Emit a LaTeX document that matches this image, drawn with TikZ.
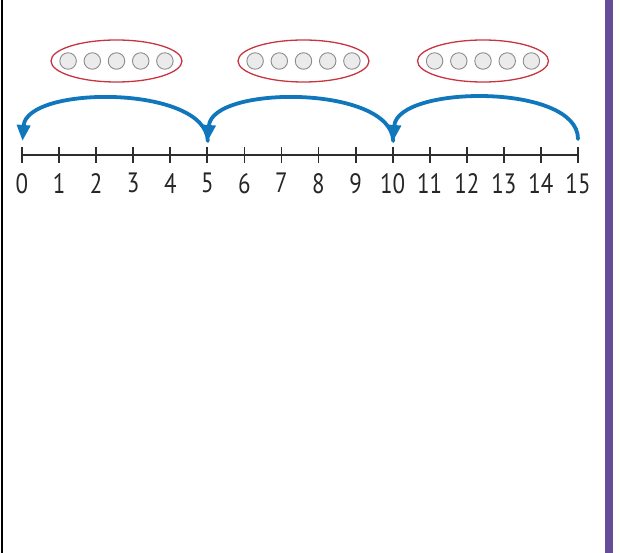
\documentclass[tikz,border=0pt]{standalone}
\usepackage{fontspec}
\setmainfont{PT Sans}[FakeStretch=0.82]
\usepackage{tikz}
\usetikzlibrary{positioning,calc}
\usetikzlibrary{arrows.meta,shapes.geometric}
\definecolor{HopBlue}{RGB}{16,119,189}
\definecolor{BagRed}{RGB}{200,52,64}
\definecolor{LineGray}{RGB}{45,45,45}
\definecolor{BarPurple}{RGB}{102,76,153}
\tikzset{
  bag/.style={ellipse,draw=BagRed,line width=1.3pt,minimum width=131pt,minimum height=42pt,inner sep=0pt},
  bead/.style={circle,draw=black!45,fill=black!8,line width=0.9pt,minimum size=16.5pt,inner sep=0pt},
  axis/.style={draw=LineGray,line width=1.8pt},
  tick/.style={draw=LineGray,line width=1.8pt},
  num/.style={inner sep=0pt,font=\fontsize{28}{32}\selectfont,text=black!85},
  hop/.style={draw=HopBlue,line width=3.8pt,line cap=round,-{Triangle[width=13pt,length=16pt]}},
}

\begin{document}
\begin{tikzpicture}[x=1pt,y=-1pt]
\useasboundingbox (0,0) rectangle (620,553);
\draw[black,line width=2.2pt] (2,0) -- (2,553);
\fill[BarPurple] (605,0) rectangle (612.5,553);
% number line
\coordinate (t0) at (22.0,155);
\coordinate (t1) at (59.1,155);
\coordinate (t2) at (96.1,155);
\coordinate (t3) at (133.2,155);
\coordinate (t4) at (170.3,155);
\coordinate (t5) at (207.3,155);
\coordinate (t6) at (244.4,155);
\coordinate (t7) at (281.5,155);
\coordinate (t8) at (318.5,155);
\coordinate (t9) at (355.6,155);
\coordinate (t10) at (392.7,155);
\coordinate (t11) at (429.7,155);
\coordinate (t12) at (466.8,155);
\coordinate (t13) at (503.9,155);
\coordinate (t14) at (540.9,155);
\coordinate (t15) at (578.0,155);
\draw[axis] (t0) -- (t15);
\draw[tick] (t0) ++(0,-8) -- ++(0,16);
\draw[tick] (t1) ++(0,-8) -- ++(0,16);
\draw[tick] (t2) ++(0,-8) -- ++(0,16);
\draw[tick] (t3) ++(0,-8) -- ++(0,16);
\draw[tick] (t4) ++(0,-8) -- ++(0,16);
\draw[tick] (t5) ++(0,-8) -- ++(0,16);
\draw[tick] (t6) ++(0,-8) -- ++(0,16);
\draw[tick] (t7) ++(0,-8) -- ++(0,16);
\draw[tick] (t8) ++(0,-8) -- ++(0,16);
\draw[tick] (t9) ++(0,-8) -- ++(0,16);
\draw[tick] (t10) ++(0,-8) -- ++(0,16);
\draw[tick] (t11) ++(0,-8) -- ++(0,16);
\draw[tick] (t12) ++(0,-8) -- ++(0,16);
\draw[tick] (t13) ++(0,-8) -- ++(0,16);
\draw[tick] (t14) ++(0,-8) -- ++(0,16);
\draw[tick] (t15) ++(0,-8) -- ++(0,16);
\node[num,below=18pt of t0] (n0) {0};
\node[num,below=18pt of t1] (n1) {1};
\node[num,below=18pt of t2] (n2) {2};
\node[num,below=18pt of t3] (n3) {3};
\node[num,below=18pt of t4] (n4) {4};
\node[num,below=18pt of t5] (n5) {5};
\node[num,below=18pt of t6] (n6) {6};
\node[num,below=18pt of t7] (n7) {7};
\node[num,below=18pt of t8] (n8) {8};
\node[num,below=18pt of t9] (n9) {9};
\node[num,below=18pt of t10] (n10) {10};
\node[num,below=18pt of t11] (n11) {11};
\node[num,below=18pt of t12] (n12) {12};
\node[num,below=18pt of t13] (n13) {13};
\node[num,below=18pt of t14] (n14) {14};
\node[num,below=18pt of t15] (n15) {15};
% jumps back
\coordinate (j0) at (22.5,141);
\coordinate (j5) at (207.8,141);
\coordinate (j10) at (393.2,141);
\coordinate (j15) at (578.0,139);
\draw[hop] (j15) .. controls +(0,-56) and +(4,-56) .. (j10);
\draw[hop] (j10) .. controls +(-2,-56) and +(4,-56) .. (j5);
\draw[hop] (j5) .. controls +(-2,-56) and +(4,-56) .. (j0);
% groups of five
\node[bag] (g1) at (116.5,61) {};
\node[bag] (g2) at (303.5,61) {};
\node[bag] (g3) at (483.0,61) {};
\node[bead] (g1c) at (g1) {};
\node[bead,left=6.8pt of g1c] (g1b) {};
\node[bead,left=6.8pt of g1b] (g1a) {};
\node[bead,right=6.8pt of g1c] (g1d) {};
\node[bead,right=6.8pt of g1d] (g1e) {};
\node[bead] (g2c) at (g2) {};
\node[bead,left=6.8pt of g2c] (g2b) {};
\node[bead,left=6.8pt of g2b] (g2a) {};
\node[bead,right=6.8pt of g2c] (g2d) {};
\node[bead,right=6.8pt of g2d] (g2e) {};
\node[bead] (g3c) at (g3) {};
\node[bead,left=6.8pt of g3c] (g3b) {};
\node[bead,left=6.8pt of g3b] (g3a) {};
\node[bead,right=6.8pt of g3c] (g3d) {};
\node[bead,right=6.8pt of g3d] (g3e) {};
\end{tikzpicture}
\end{document}
